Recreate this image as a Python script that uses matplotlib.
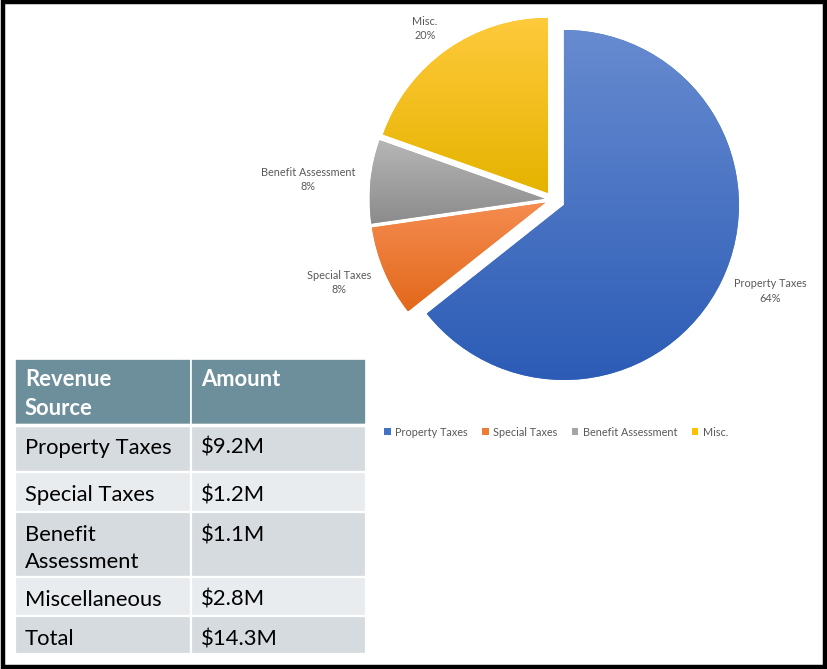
import matplotlib
matplotlib.use("Agg")
import matplotlib.pyplot as plt
import numpy as np
from matplotlib.patches import Rectangle
from matplotlib.colors import to_rgb

# revenue sources and amounts ($M)
sources = ["Property Taxes", "Special Taxes", "Benefit Assessment", "Misc."]
amounts = [9.2, 1.2, 1.1, 2.8]
table_sources = ["Property Taxes", "Special Taxes", "Benefit\nAssessment", "Miscellaneous", "Total"]
table_amounts = ["$9.2M", "$1.2M", "$1.1M", "$2.8M", "$14.3M"]
table_header = ["Revenue\nSource", "Amount"]

# top/bottom gradient colours per slice
grad_top = ["#678bd0", "#f58c50", "#b6b6b6", "#ffca3c"]
grad_bot = ["#2c5cb6", "#e2681b", "#8b8b8b", "#e5b300"]
base_colors = ["#4472c4", "#ed7d31", "#a5a5a5", "#ffc000"]

FONT = "Lato"
W, H = 827, 669

fig = plt.figure(figsize=(W / 100, H / 100), dpi=100)
fig.patch.set_facecolor("white")

# overlay axes in pixel units (y down) for the table and outer frame
bg = fig.add_axes([0, 0, 1, 1])
bg.set_xlim(0, W)
bg.set_ylim(H, 0)
bg.axis("off")

bg.add_patch(Rectangle((3, 2), W - 5.5, H - 4, fill=False, edgecolor="black",
                       linewidth=3.2, zorder=10))

# ---- table ----
col_x = [15, 191, 366]
row_y = [359, 425, 472, 512, 577, 616, 654]
header_col = "#6d8f9c"
row_cols = ["#d5dbdf", "#e8ecef"]

rows = [table_header] + [[s, a] for s, a in zip(table_sources, table_amounts)]
for r, cells in enumerate(rows):
    top, bot = row_y[r], row_y[r + 1]
    fc = header_col if r == 0 else row_cols[(r - 1) % 2]
    pad = 10 if r == 0 else 13
    for c, txt in enumerate(cells):
        left, right = col_x[c], col_x[c + 1]
        bg.add_patch(Rectangle((left, top), right - left, bot - top, facecolor=fc,
                               edgecolor="white", linewidth=1.6 if r else 1.2))
        bg.text(left + 10, top + pad, txt, ha="left", va="top",
                fontsize=15.8, family=FONT, linespacing=1.45,
                color="white" if r == 0 else "black",
                fontweight="bold" if r == 0 else "normal")
# thicker separator under the header
bg.plot([col_x[0], col_x[-1]], [row_y[1], row_y[1]], color="white", lw=2.5)

# ---- pie ----
cx, cy, R = 552.6, 199.5, 175.0
side = 420.0
pie_ax = fig.add_axes([(cx - side / 2) / W, (H - cy - side / 2) / H, side / W, side / H])
lim = side / 2 / R
wedges, _ = pie_ax.pie(amounts, colors=base_colors, startangle=90, counterclock=False,
                       explode=[0.072, 0.046, 0.046, 0.046], radius=1.0,
                       wedgeprops=dict(linewidth=0))

pct = np.array(amounts) / sum(amounts) * 100
# data label placement: radial distance and small angular nudge (deg)
label_dist = [1.35, 1.31, 1.40, 1.22]
label_turn = [3.0, -2.0, 1.0, 1.4]
for i, w in enumerate(wedges):
    # vertical gradient clipped to the slice
    (x0, y0), (x1, y1) = w.get_path().get_extents().get_points()
    grad = np.linspace(to_rgb(grad_bot[i]), to_rgb(grad_top[i]), 256)[:, None, :]
    img = pie_ax.imshow(grad, extent=[x0, x1, y0, y1], origin="lower",
                        aspect="auto", interpolation="bilinear", zorder=2)
    img.set_clip_path(w)

    ang = np.deg2rad((w.theta1 + w.theta2) / 2 + label_turn[i])
    d = label_dist[i]
    pie_ax.text(d * np.cos(ang), d * np.sin(ang),
                f"{sources[i]}\n{pct[i]:.0f}%", ha="center", va="center",
                multialignment="center", fontsize=7.8, family=FONT,
                color="#595959", linespacing=1.35)

pie_ax.set_xlim(-lim, lim)
pie_ax.set_ylim(-lim, lim)
pie_ax.set_aspect("equal")
pie_ax.axis("off")

leg = fig.legend(wedges, sources, loc="center", bbox_to_anchor=(556 / W, 1 - 432 / H),
                 ncol=4, frameon=False, handlelength=0.6, handleheight=0.6,
                 handletextpad=0.4, columnspacing=1.35,
                 prop=dict(family=FONT, size=7.8))
for t in leg.get_texts():
    t.set_color("#595959")

fig.savefig("out.png", dpi=100)
